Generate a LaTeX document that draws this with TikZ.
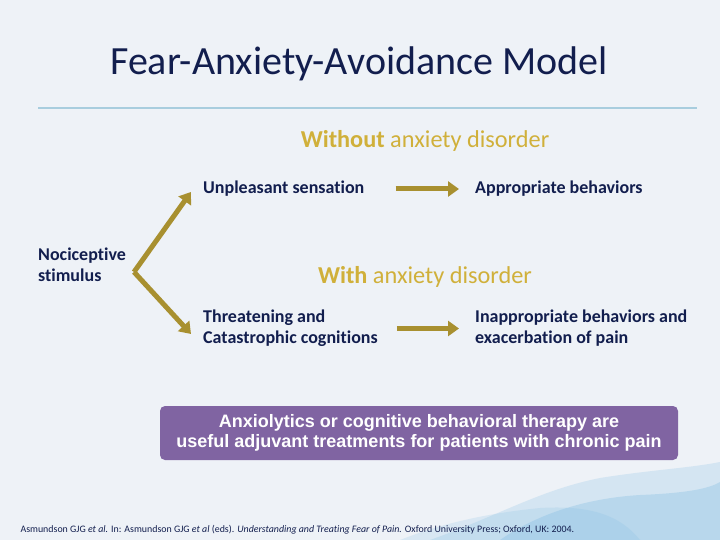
\documentclass[tikz,border=0pt]{standalone}
\usepackage{fontspec}
\setmainfont{Carlito}[Ligatures=NoCommon]
\newfontfamily\boxfont{Liberation Sans}
\usetikzlibrary{arrows.meta}
\definecolor{slidebg}{RGB}{238,242,247}
\definecolor{navytext}{RGB}{18,30,78}
\definecolor{goldtext}{RGB}{208,176,58}
\definecolor{goldarrow}{RGB}{168,144,48}
\definecolor{rulecol}{RGB}{168,205,222}
\definecolor{boxpurple}{RGB}{128,100,162}
\definecolor{wash}{RGB}{120,185,225}
\begin{document}
\begin{tikzpicture}[x=1pt,y=-1pt,
        item/.style={font=\fontsize{18}{21}\selectfont\bfseries, text=navytext, align=left, inner sep=0pt},
        heading/.style={font=\fontsize{24.3}{28}\selectfont, text=goldtext, inner sep=0pt},
        flow/.style={-{Triangle[width=15pt,length=11pt]}, line width=5pt, draw=goldarrow}]
    % background and watercolour wash
    \fill[slidebg] (0,0) rectangle (720,540);
    \useasboundingbox (0,0) rectangle (720,540);
    \fill[wash, opacity=0.22] (430,540) .. controls (500,515) and (540,490) .. (600,478) .. controls (650,470) and (690,468) .. (720,462) -- (720,540) -- cycle;
    \fill[wash, opacity=0.3] (500,540) .. controls (540,512) and (590,498) .. (640,495) .. controls (690,493) and (710,488) .. (720,482) -- (720,540) -- cycle;
    \fill[wash, opacity=0.18] (400,540) .. controls (450,520) and (500,512) .. (540,508) .. controls (590,505) and (620,515) .. (640,540) -- cycle;

    % title
    \draw node[font=\fontsize{40}{46}\selectfont, text=navytext] (title) at (359,64) {Fear-Anxiety-Avoidance Model};
    \coordinate (ruleL) at (38,108);
    \coordinate (ruleR) at (697,108);
    \draw[rulecol, line width=1.5pt] (ruleL) -- (ruleR);

    % without anxiety disorder
    \draw node[heading] (without) at (425,141) {\textbf{Without} anxiety disorder};
    \draw node[item, anchor=west] (unpl) at (203,189) {Unpleasant sensation};
    \draw node[item, anchor=west] (appr) at (475,189) {Appropriate behaviors};
    \draw[flow] ([xshift=31pt]unpl.east) to ([xshift=-16pt]appr.west);

    % with anxiety disorder
    \draw node[heading] (with) at (425,277) {\textbf{With} anxiety disorder};
    \draw node[item, anchor=west] (threat) at (203,328.5) {Threatening and\\Catastrophic cognitions};
    \draw node[item, anchor=west] (inappr) at (475,328.5) {Inappropriate behaviors and\\exacerbation of pain};
    \draw[flow] ([xshift=19pt]threat.east) to ([xshift=-16pt]inappr.west);

    % stimulus fork
    \draw node[item, anchor=west] (stim) at (38,264.5) {Nociceptive\\stimulus};
    \coordinate (fork) at (134,272);
    \coordinate (uptip) at (191,192);
    \coordinate (dntip) at (191,334);
    \draw[flow] (fork) to (uptip);
    \draw[flow] (fork) to (dntip);

    % conclusion box
    \draw node[fill=boxpurple, rounded corners=5pt, minimum width=518pt, minimum height=54pt,
        text=white, align=center, font=\boxfont\fontsize{18}{20}\selectfont\bfseries] (concl) at (419,433)
        {Anxiolytics or cognitive behavioral therapy are\\useful adjuvant treatments for patients with chronic pain};

    % reference
    \draw node[anchor=west, text=navytext, font=\fontsize{9.9}{11}\selectfont] (ref) at (17,530)
        {Asmundson GJG \textit{et al.} In: Asmundson GJG \textit{et al} (eds). \textit{Understanding and Treating Fear of Pain.} Oxford University Press; Oxford, UK: 2004.};
\end{tikzpicture}
\end{document}
